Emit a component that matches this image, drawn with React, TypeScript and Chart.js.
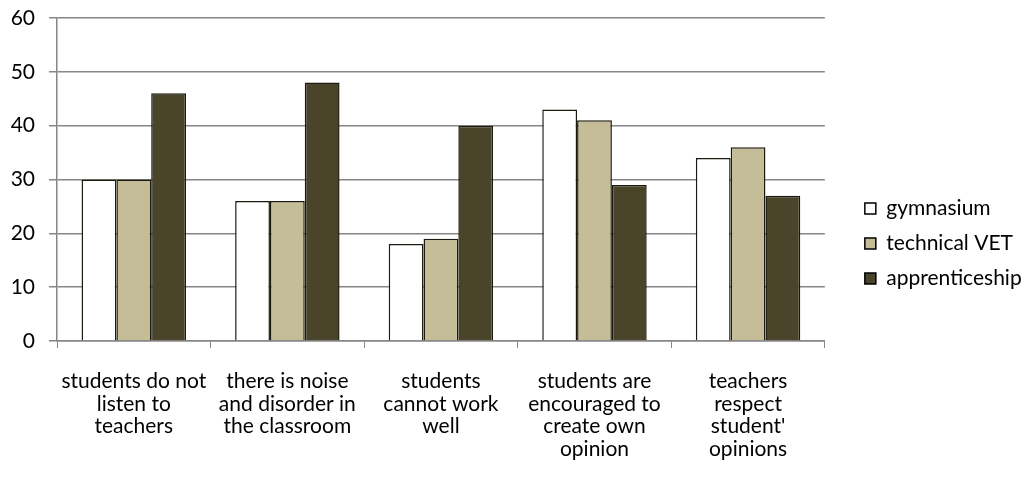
import React, { useEffect, useRef } from "react";
import { Chart, registerables } from "chart.js";

Chart.register(...registerables);

const categories: string[][] = [
  ["students do not", "listen to", "teachers"],
  ["there is noise", "and disorder in", "the classroom"],
  ["students", "cannot work", "well"],
  ["students are", "encouraged to", "create own", "opinion"],
  ["teachers", "respect", "student'", "opinions"],
];

const seriesNames = ["gymnasium", "technical VET", "apprenticeship"];
const gymnasium = [30, 26, 18, 43, 34];
const technicalVET = [30, 26, 19, 41, 36];
const apprenticeship = [46, 48, 40, 29, 27];
const seriesColors = ["#ffffff", "#c4bd97", "#4a452a"];
const yTicks = [0, 10, 20, 30, 40, 50, 60];

const FONT = "Lato, 'Open Sans', sans-serif";

export default function App() {
  const ref = useRef<HTMLCanvasElement | null>(null);
  useEffect(() => {
    document.body.style.margin = "0";
    const ctx = ref.current!;
    const values = [gymnasium, technicalVET, apprenticeship];
    const chart = new Chart(ctx, {
      type: "bar",
      data: {
        labels: categories,
        datasets: values.map((v, i) => ({
          label: seriesNames[i],
          data: v,
          backgroundColor: seriesColors[i],
          borderColor: "#1c1a0e",
          borderWidth: 1.5,
          barPercentage: 1.0,
          categoryPercentage: 0.68,
          yAxisID: "y",
        })),
      },
      options: {
        animation: false,
        responsive: false,
        maintainAspectRatio: false,
        layout: { padding: { top: 10, left: 0, right: 6, bottom: 0 } },
        plugins: {
          tooltip: { enabled: false },
          legend: {
            position: "right",
            labels: {
              boxWidth: 11,
              boxHeight: 11,
              padding: 14,
              color: "#000",
              font: { family: FONT, size: 21 },
              generateLabels: () =>
                seriesNames.map((n, i) => ({
                  text: n,
                  fillStyle: seriesColors[i],
                  strokeStyle: "#000",
                  lineWidth: 1.5,
                  datasetIndex: i,
                  hidden: false,
                  fontColor: "#000",
                })),
            },
          },
        },
        scales: {
          x: {
            afterFit: (axis: any) => {
              axis.height = 136;
            },
            grid: {
              offset: true,
              drawOnChartArea: false,
              drawTicks: true,
              tickLength: 7,
              color: "#868686",
            },
            border: { color: "#868686", width: 1.5 },
            ticks: {
              color: "#000",
              maxRotation: 0,
              autoSkip: false,
              font: { family: FONT, size: 21, lineHeight: "22.5px" },
              padding: 22,
            },
          },
          y: {
            min: 0,
            max: 60,
            afterFit: (axis: any) => {
              axis.width = 57;
              axis.paddingTop = 18;
              axis.paddingBottom = 0;
            },
            afterBuildTicks: (axis: any) => {
              axis.ticks = yTicks.map((v) => ({ value: v }));
            },
            grid: { color: "#868686", lineWidth: 1.5, tickLength: 8 },
            border: { color: "#868686", width: 1.5 },
            ticks: {
              color: "#000",
              font: { family: FONT, size: 21 },
              padding: 14,
            },
          },
          spacer: {
            type: "linear",
            position: "right",
            display: true,
            afterFit: (axis: any) => {
              axis.width = 26;
              axis.paddingTop = 0;
              axis.paddingBottom = 0;
            },
            grid: { display: false, drawOnChartArea: false },
            border: { display: false },
            ticks: { display: false },
          },
        },
      },
    });
    return () => chart.destroy();
  }, []);
  return (
    <div style={{ position: "fixed", left: 0, top: 0, width: 1027, height: 477, background: "#fff" }}>
      <canvas ref={ref} width={1027} height={477} />
    </div>
  );
}
